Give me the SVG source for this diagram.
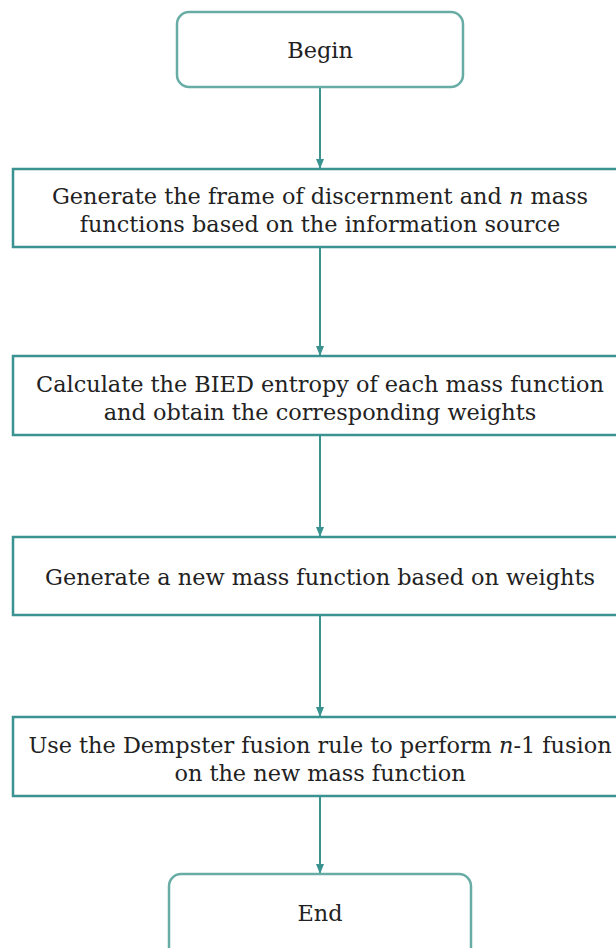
<svg xmlns="http://www.w3.org/2000/svg" width="616" height="948" viewBox="0 0 616 948">
<defs>
<style>
.term{fill:#fff;stroke:#68aca6;stroke-width:2.5}
.proc{fill:#fff;stroke:#3a9390;stroke-width:2.5}
.t{font-family:"DejaVu Serif",serif;font-size:22.4px;fill:#222;text-anchor:middle}
.c{stroke:#3a9390;stroke-width:2;fill:none;marker-end:url(#ah)}
</style>
<marker id="ah" viewBox="0 0 10 10" refX="10" refY="5" markerWidth="5" markerHeight="5" orient="auto" markerUnits="strokeWidth"><path d="M0,1 L10,5 L0,9 z" fill="#3a9390"/></marker>
</defs>
<rect width="616" height="948" fill="#fff"/>
<g id="connectors">
<line class="c" x1="320" y1="87" x2="320" y2="169"/>
<line class="c" x1="320" y1="248" x2="320" y2="356"/>
<line class="c" x1="320" y1="435" x2="320" y2="537"/>
<line class="c" x1="320" y1="616" x2="320" y2="717"/>
<line class="c" x1="320" y1="797" x2="320" y2="874"/>
</g>
<g id="begin">
<rect class="term" x="177" y="12" width="286" height="75" rx="12"/>
<text class="t" x="320" y="58">Begin</text>
</g>
<g id="step1">
<rect class="proc" x="13" y="169" width="620" height="78"/>
<text class="t" x="320" y="204">Generate the frame of discernment and <tspan font-style="italic">n</tspan> mass</text>
<text class="t" x="320" y="232">functions based on the information source</text>
</g>
<g id="step2">
<rect class="proc" x="13" y="356" width="620" height="79"/>
<text class="t" x="320" y="392">Calculate the BIED entropy of each mass function</text>
<text class="t" x="320" y="420">and obtain the corresponding weights</text>
</g>
<g id="step3">
<rect class="proc" x="13" y="537" width="620" height="78"/>
<text class="t" x="320" y="585">Generate a new mass function based on weights</text>
</g>
<g id="step4">
<rect class="proc" x="13" y="717" width="620" height="79"/>
<text class="t" x="320" y="753">Use the Dempster fusion rule to perform <tspan font-style="italic">n</tspan>-1 fusion</text>
<text class="t" x="320" y="781">on the new mass function</text>
</g>
<g id="end">
<rect class="term" x="169" y="874" width="302" height="90" rx="12"/>
<text class="t" x="320" y="921">End</text>
</g>
</svg>
